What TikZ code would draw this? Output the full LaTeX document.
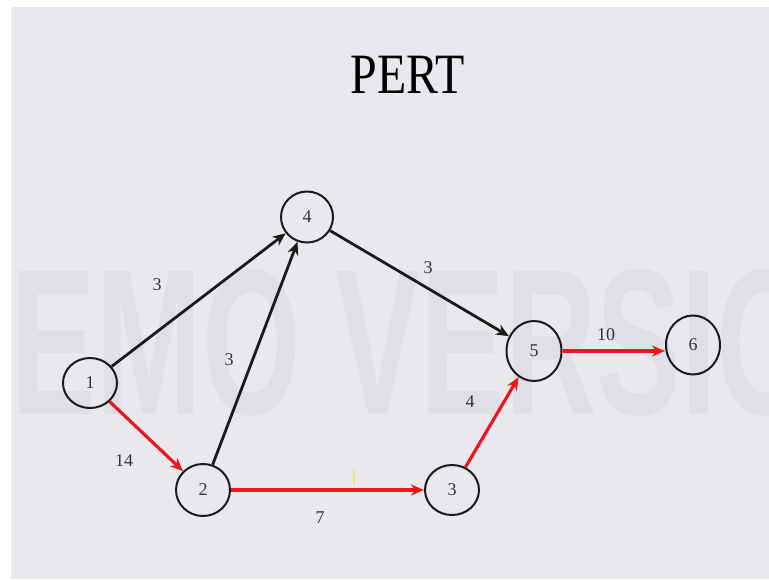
\documentclass[tikz,border=0pt]{standalone}
\usepackage{fontspec}
\setmainfont{Liberation Serif}
\newfontfamily\wmfont{Liberation Sans}
\usetikzlibrary{arrows.meta,shapes.geometric}

\definecolor{paper}{HTML}{EAE8ED}
\definecolor{wmark}{HTML}{E0DFE4}
\definecolor{critred}{HTML}{E8181C}
\definecolor{ink}{HTML}{1A1A1A}
\definecolor{numgray}{HTML}{333333}
\definecolor{tick}{HTML}{E6E67A}

\begin{document}
\begin{tikzpicture}[x=1pt,y=-1pt,
  event/.style={ellipse, draw=ink, line width=2pt, inner sep=0pt,
    font=\fontsize{18}{18}\selectfont, text=numgray},
  act/.style={line width=2.8pt, draw=ink, -{Stealth[length=13pt,width=11pt]}},
  crit/.style={line width=3.2pt, draw=critred, -{Stealth[length=13pt,width=11pt]}},
  lbl/.style={font=\fontsize{18}{18}\selectfont, text=numgray}
]
\useasboundingbox (0,0) rectangle (769,579);
\fill[white] (0,0) rectangle (769,579);
\fill[paper] (11,7) rectangle (769,579);

% faint watermark across the middle
\begin{scope}
  \clip (11,7) rectangle (769,579);
  \node[anchor=west, text=wmark, inner sep=0pt] (wm) at (-80,343)
    {\scalebox{0.61}[1]{\wmfont\bfseries\fontsize{208}{208}\selectfont DEMO VERSION}};
\end{scope}

% title
\node[anchor=base, inner sep=0pt] (title) at (408,93)
  {\scalebox{0.84}[1]{\fontsize{57}{57}\selectfont PERT}};

% events
\node[event, minimum width=54pt, minimum height=50pt] (n1) at (90,383) {1};
\node[event, minimum width=52pt, minimum height=51pt] (n4) at (307,217) {4};
\node[event, minimum width=54pt, minimum height=52pt] (n2) at (203,490) {2};
\node[event, minimum width=54pt, minimum height=50pt] (n3) at (452,490) {3};
\node[event, minimum width=55pt, minimum height=60pt] (n5) at (534,351) {5};
\node[event, minimum width=54pt, minimum height=59pt] (n6) at (693,345) {6};

% activities
\draw[act] (n1) -- (n4);
\draw[act] (n2) -- (n4);
\draw[act] (n4) -- (n5);
\draw[crit] (n1) -- (n2);
\draw[crit] (n2) -- (n3);
\draw[crit] (n3) -- (n5);
\draw[crit] (n5.east) -- (n5.east -| n6.west);

% durations
\node[lbl] (d14) at (157,285) {3};
\node[lbl] (d24) at (229,360) {3};
\node[lbl] (d45) at (428,268) {3};
\node[lbl] (d12) at (124,461) {14};
\node[lbl] (d23) at (320,518) {7};
\node[lbl] (d35) at (470,402) {4};
\node[lbl] (d56) at (606,335) {10};

% small yellow mark above the 2-3 arrow
\coordinate (ta) at (354,470);
\coordinate (tb) at (354,484);
\draw[tick, line width=2.5pt] (ta) -- (tb);
\end{tikzpicture}
\end{document}
